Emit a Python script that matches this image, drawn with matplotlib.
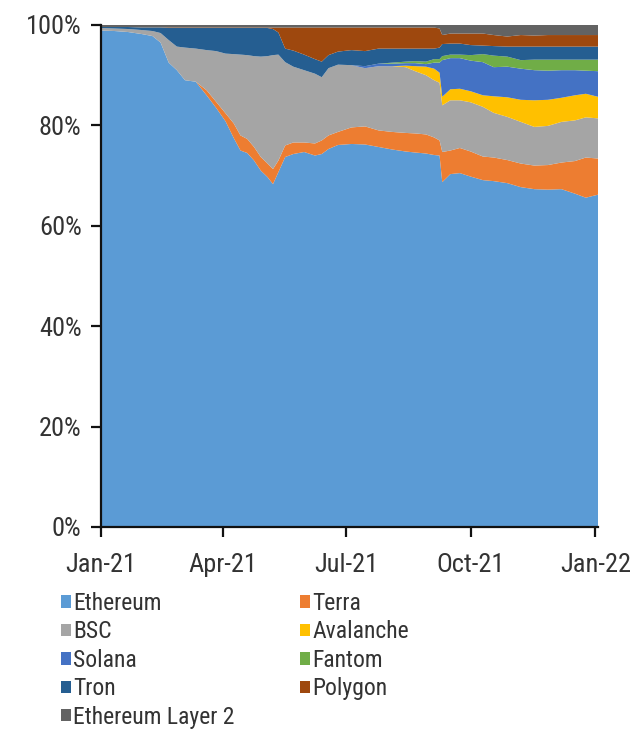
import matplotlib
matplotlib.use("Agg")
import matplotlib.pyplot as plt
import matplotlib.dates as mdates
from matplotlib import font_manager
from matplotlib.patches import Patch
from matplotlib.ticker import PercentFormatter, FixedLocator
import pandas as pd

# prefer a narrow sans font (closest to the reference's narrow Arial look)
available = {f.name for f in font_manager.fontManager.ttflist}
preferred = ["Liberation Sans Narrow", "Arial Narrow", "Roboto Condensed",
             "Open Sans Condensed", "DejaVu Sans Condensed"]
narrow = next((n for n in preferred if n in available), None)

if narrow is not None:
    plt.rcParams['font.family'] = [narrow, 'Liberation Sans', 'DejaVu Sans']
    if narrow == "DejaVu Sans Condensed":
        plt.rcParams['font.stretch'] = 'condensed'
    tick_size, legend_size, lab_sp = 19, 17, 0.23
else:
    plt.rcParams['font.family'] = ['Liberation Sans', 'DejaVu Sans']
    tick_size, legend_size, lab_sp = 16.5, 14, 0.45

dates = ["2021-01-01", "2021-01-11", "2021-01-21", "2021-01-31", "2021-02-08", "2021-02-14",
         "2021-02-20", "2021-02-26", "2021-03-04", "2021-03-12", "2021-03-20", "2021-03-27",
         "2021-04-03", "2021-04-09", "2021-04-14", "2021-04-19", "2021-04-24", "2021-04-29",
         "2021-05-04", "2021-05-08", "2021-05-12", "2021-05-17", "2021-05-23", "2021-05-31",
         "2021-06-08", "2021-06-13", "2021-06-18", "2021-06-25", "2021-07-05", "2021-07-15",
         "2021-07-25", "2021-08-04", "2021-08-14", "2021-08-21", "2021-08-29", "2021-09-04",
         "2021-09-08", "2021-09-10", "2021-09-16", "2021-09-23", "2021-10-01", "2021-10-10",
         "2021-10-18", "2021-10-28", "2021-11-07", "2021-11-17", "2021-11-27", "2021-12-07",
         "2021-12-17", "2021-12-25", "2022-01-03"]

ethereum = [98.9, 98.8, 98.6, 98.2, 97.8, 96.5, 92.5, 91.0, 89.0, 88.7, 86.0, 83.5,
            80.8, 77.5, 75.0, 74.5, 73.0, 71.0, 69.7, 68.3, 70.7, 73.7, 74.3, 74.7,
            74.0, 74.3, 75.3, 76.1, 76.3, 76.2, 75.7, 75.2, 74.8, 74.6, 74.4, 74.1,
            74.0, 68.7, 70.3, 70.5, 69.8, 69.1, 68.9, 68.5, 67.7, 67.3, 67.2, 67.3,
            66.4, 65.6, 66.2]
terra = [0, 0, 0, 0, 0, 0, 0, 0, 0, 0, 1.0, 1.2,
         1.6, 2.9, 3.0, 2.8, 2.7, 2.7, 2.7, 3.0, 2.3, 2.3, 2.3, 1.9,
         2.4, 2.7, 2.7, 2.6, 3.3, 3.6, 3.3, 3.5, 3.7, 3.8, 3.8, 3.5,
         3.0, 6.0, 4.7, 5.0, 5.0, 4.7, 4.7, 4.6, 4.7, 4.7, 4.9, 5.3,
         6.5, 8.0, 7.2]
bsc = [0.5, 0.5, 0.6, 0.8, 1.0, 1.9, 4.5, 4.7, 6.5, 6.6, 8.0, 10.1,
       11.9, 13.8, 16.1, 16.7, 18.1, 20.0, 21.4, 22.7, 21.1, 16.6, 15.1, 14.4,
       13.9, 12.6, 13.4, 13.4, 12.4, 11.6, 12.8, 13.1, 13.1, 12.4, 11.8, 11.4,
       11.5, 9.3, 10.0, 9.5, 9.8, 9.9, 8.9, 8.6, 8.3, 7.7, 7.8, 8.1,
       8.1, 8.0, 8.0]
avalanche = [0, 0, 0, 0, 0, 0, 0, 0, 0, 0, 0, 0,
             0, 0, 0, 0, 0, 0, 0, 0, 0, 0, 0, 0,
             0, 0, 0, 0, 0, 0, 0, 0, 0.3, 1.0, 1.7, 2.3,
             2.0, 1.7, 2.2, 2.3, 2.2, 2.3, 3.3, 3.9, 4.4, 5.3, 5.2, 4.8,
             5.0, 4.7, 4.3]
solana = [0, 0, 0, 0, 0, 0, 0, 0, 0, 0, 0, 0,
          0, 0, 0, 0, 0, 0, 0, 0, 0, 0, 0, 0,
          0, 0, 0, 0, 0, 0.4, 0.5, 0.5, 0.5, 0.6, 0.5, 1.2,
          2.0, 7.3, 6.2, 6.1, 6.1, 6.6, 5.8, 6.1, 6.2, 6.0, 5.8, 5.5,
          5.0, 4.6, 5.1]
fantom = [0, 0, 0, 0, 0, 0, 0, 0, 0, 0, 0, 0,
          0, 0, 0, 0, 0, 0, 0, 0, 0, 0, 0, 0,
          0, 0, 0, 0, 0, 0, 0, 0.2, 0.3, 0.4, 0.5, 0.7,
          0.7, 0.8, 0.7, 0.7, 1.1, 1.6, 2.3, 2.0, 1.7, 2.1, 2.2, 2.1,
          2.1, 2.2, 2.3]
tron = [0.2, 0.3, 0.4, 0.5, 0.7, 1.1, 2.4, 3.7, 3.9, 4.1, 4.4, 4.6,
        5.1, 5.2, 5.3, 5.4, 5.6, 5.7, 5.6, 5.2, 4.4, 2.7, 3.2, 3.1,
        2.9, 3.1, 2.6, 2.6, 3.0, 3.0, 3.0, 2.8, 2.6, 2.5, 2.6, 2.1,
        2.3, 2.4, 2.2, 2.2, 2.0, 1.7, 1.9, 2.0, 2.7, 2.6, 2.6, 2.6,
        2.6, 2.6, 2.6]
polygon = [0, 0, 0, 0, 0, 0, 0.1, 0.1, 0.1, 0.1, 0.1, 0.1,
           0.1, 0.1, 0.1, 0.1, 0.1, 0.1, 0.1, 0.3, 1.0, 4.2, 4.6, 5.4,
           6.3, 6.8, 5.5, 4.8, 4.5, 4.7, 4.2, 4.2, 4.2, 4.2, 4.2, 4.2,
           3.8, 1.8, 2.0, 2.0, 2.3, 2.4, 2.2, 2.0, 2.3, 2.2, 2.3, 2.3,
           2.3, 2.3, 2.3]
eth_layer2 = [0.4, 0.4, 0.4, 0.5, 0.5, 0.5, 0.5, 0.5, 0.5, 0.5, 0.5, 0.5,
              0.5, 0.5, 0.5, 0.5, 0.5, 0.5, 0.5, 0.5, 0.5, 0.5, 0.5, 0.5,
              0.5, 0.5, 0.5, 0.5, 0.5, 0.5, 0.5, 0.5, 0.5, 0.5, 0.5, 0.5,
              0.7, 2.0, 1.7, 1.7, 1.7, 1.7, 2.0, 2.3, 2.0, 2.1, 2.0, 2.0,
              2.0, 2.0, 2.0]

series_names = ["Ethereum", "Terra", "BSC", "Avalanche", "Solana", "Fantom", "Tron",
                "Polygon", "Ethereum Layer 2"]
series_values = [ethereum, terra, bsc, avalanche, solana, fantom, tron, polygon, eth_layer2]
series_colors = ["#5B9BD5", "#ED7D31", "#A5A5A5", "#FFC000", "#4472C4", "#70AD47",
                 "#255E91", "#9E480E", "#636363"]

legend_order = ["Ethereum", "BSC", "Solana", "Tron", "Ethereum Layer 2",
                "Terra", "Avalanche", "Fantom", "Polygon"]

tick_dates = ["2021-01-01", "2021-04-01", "2021-07-01", "2021-10-01", "2022-01-01"]

x = pd.to_datetime(dates)

fig = plt.figure(figsize=(6.33, 7.37), dpi=100)
ax = fig.add_axes([101 / 633, 1 - 527 / 737, (598 - 101) / 633, (527 - 25) / 737])

ax.stackplot(x, *series_values, colors=series_colors, labels=series_names, linewidth=0)

ax.set_ylim(0, 100)
ax.set_xlim(x[0], x[-1])
ax.yaxis.set_major_locator(FixedLocator([0, 20, 40, 60, 80, 100]))
ax.yaxis.set_major_formatter(PercentFormatter(100, decimals=0))
ax.xaxis.set_major_locator(FixedLocator(mdates.date2num(pd.to_datetime(tick_dates))))
ax.xaxis.set_major_formatter(mdates.DateFormatter("%b-%y"))

for s in ["top", "right"]:
    ax.spines[s].set_visible(False)
for s in ["left", "bottom"]:
    ax.spines[s].set_linewidth(1.6)
    ax.spines[s].set_color("#111111")
    ax.spines[s].set_zorder(5)

ax.tick_params(axis="both", direction="out", length=7, width=1.6, color="#111111",
               labelsize=tick_size, labelcolor="#333333")
ax.tick_params(axis="y", pad=7)
ax.tick_params(axis="x", pad=12)

fs_px = legend_size * 100 / 72
color_of = dict(zip(series_names, series_colors))
handles = [Patch(facecolor=color_of[n], edgecolor="none") for n in legend_order]
fig.legend(handles, legend_order, ncol=2, loc="upper left",
           bbox_to_anchor=(61 / 633, 1 - 592 / 737), frameon=False, fontsize=legend_size,
           handlelength=10 / fs_px, handleheight=10 / fs_px, handletextpad=2 / fs_px,
           labelspacing=lab_sp, columnspacing=66 / fs_px, borderpad=0, borderaxespad=0,
           labelcolor="#333333")

fig.savefig("out.png", dpi=100)
